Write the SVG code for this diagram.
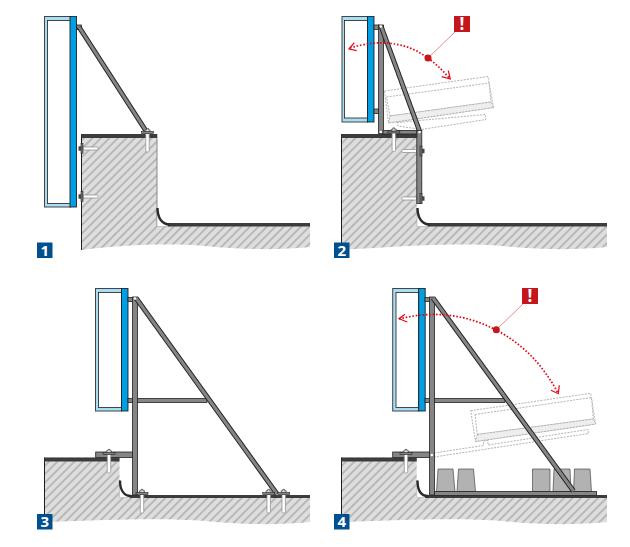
<svg xmlns="http://www.w3.org/2000/svg" width="630" height="547" viewBox="0 0 630 547">
<style>
.ground{fill:url(#hatch);stroke:none}
.edge{fill:none;stroke:#1d1d1b;stroke-width:1}
.membrane{fill:#3c3c3b;stroke:none}
.curve{fill:none;stroke:#2b2b2b;stroke-width:2.4}
.gap{fill:#fff;stroke:#aaa;stroke-width:.6}
.frame{fill:#a9ddf6;stroke:#444;stroke-width:1}
.inner{fill:#fff;stroke:#1d1d1b;stroke-width:.8}
.plate{fill:#009fe3;stroke:#222;stroke-width:.9}
.steel{fill:#858585;stroke:#222;stroke-width:.8}
.bar{stroke:#222;stroke-width:5}
.barc{stroke:#858585;stroke-width:3}
.ghost{fill:#fff;stroke:#aaa;stroke-width:.9;stroke-dasharray:2 1.2}
.ghostb{fill:#eee;stroke:#aaa;stroke-width:.9;stroke-dasharray:2 1.2}
.block{fill:#b2b2b2;stroke:#333;stroke-width:.6}
.arc{fill:none;stroke:#e30613;stroke-width:1.7;stroke-dasharray:1.6 1.8}
.head{fill:none;stroke:#e30613;stroke-width:1.2}
.lead{stroke:#e58a8f;stroke-width:1}
.dot{fill:#c4161c}
.warn{fill:#c4161c}
.wt{font-family:"Open Sans","Liberation Sans",sans-serif;font-weight:700;font-size:15px;fill:#fff;text-anchor:middle}
.ex{font-size:17px}
.num{fill:#00508f}
</style>
<defs>
<pattern id="hatch" width="6" height="6" patternUnits="userSpaceOnUse" patternTransform="rotate(45)">
<rect width="6" height="6" fill="#dedede"/>
<rect width="2" height="6" fill="#b8b8b8"/>
</pattern>
<g id="anchor">
<rect x="-1.7" y="0" width="3.4" height="19" rx="1.2" fill="#fff" stroke="#888" stroke-width=".7"/>
<rect x="-6" y="-1.5" width="12" height="2" fill="#858585" stroke="#222" stroke-width=".6"/>
<path d="M-2.500 -1.500V-3.200H-1V-4.600H1V-3.200H2.500V-1.500Z" fill="#ddd" stroke="#222" stroke-width=".6"/>
</g>
<rect id="shaft" x="0" y="-1.500" width="15" height="3" rx="1.200" fill="#fff" stroke="#888" stroke-width=".7"/>
<g id="sideNut">
<rect x="-2" y="-5" width="2" height="10" fill="#777" stroke="#222" stroke-width=".6"/>
<rect x="-4.500" y="-2.200" width="2.500" height="4.400" fill="#444"/>
</g>
</defs>

<g id="panel-1">
<path class="ground" d="M81.500 134H157V226H310V247C280 250 245 250 205 246C170 243 120 245 81.500 250Z"/>
<path class="edge" d="M81.500 250V134"/>
<path class="edge" style="stroke:#888" d="M157 134V226"/>
<path class="gap" d="M157 208V226.500H170C162 224 157 218 157 208Z"/>
<rect class="membrane" x="81.500" y="134" width="75.500" height="4"/>
<rect class="membrane" x="168" y="223" width="142" height="3.500"/>
<path class="curve" d="M157.500 208C157.500 218 162 224.500 170 224.500"/>
<rect class="frame" x="44.500" y="16.500" width="26" height="190.500"/>
<rect class="inner" x="47.500" y="20.500" width="23" height="183"/>
<rect class="plate" x="70" y="16.500" width="6.500" height="190.500"/>
<rect class="steel" x="76.500" y="25" width="5" height="4.500"/>
<line class="bar" x1="79" y1="27" x2="146" y2="131"/>
<line class="barc" x1="79" y1="27" x2="146" y2="131"/>
<use href="#anchor" x="147.500" y="133"/>
<use href="#shaft" x="83" y="148.500"/><use href="#sideNut" x="83" y="148.500"/>
<use href="#shaft" x="83" y="196.500"/><use href="#sideNut" x="83" y="196.500"/>
</g>

<g id="panel-2">
<path class="ground" d="M341.500 134H417V226H607V247C577 250 542 250 502 246C467 243 417 245 341.500 250Z"/>
<path class="edge" d="M341.500 250V134"/>
<path class="gap" d="M417 208V226.500H430C422 224 417 218 417 208Z"/>
<rect class="membrane" x="341.500" y="134" width="75.500" height="4"/>
<rect class="membrane" x="428" y="223" width="179" height="3.500"/>
<path class="curve" d="M417.500 208C417.500 218 422 224.500 430 224.500"/>
<path class="ghost" d="M397 122.500L485.500 114.500L486 119.500L421 129.500L398 126Z"/>
<path class="ghost" d="M384.500 91L488 76.500L493.500 107.500L388.500 123Z"/>
<path class="ghost" d="M386.500 97L489 83L491 102L390 116Z"/>
<path class="ghostb" d="M390 116L491 102L493.500 107.500L388.500 123Z"/>
<rect class="frame" x="342" y="16.500" width="25.500" height="105.500"/>
<rect class="inner" x="344.500" y="20.500" width="23" height="97.500"/>
<rect class="plate" x="367.500" y="16.500" width="6.500" height="105.500"/>
<rect class="steel" x="374" y="25" width="5" height="4.500"/>
<rect class="steel" x="374" y="109" width="5" height="4.500"/>
<rect class="steel" x="378.500" y="25" width="5" height="108.500"/>
<rect class="steel" x="383" y="130.500" width="34" height="3.500"/>
<line class="bar" x1="381" y1="26" x2="419.500" y2="131"/>
<line class="barc" x1="381" y1="26" x2="419.500" y2="131"/>
<use href="#shaft" x="401.700" y="151"/>
<use href="#shaft" x="401.700" y="198.500"/>
<rect class="steel" x="416.800" y="130.500" width="5" height="73"/>
<use href="#anchor" x="393.800" y="132.500"/>
<use href="#sideNut" transform="translate(420 151) scale(-1 1)"/>
<use href="#sideNut" transform="translate(420 198.500) scale(-1 1)"/>
<circle cx="380.800" cy="26.500" r="1.300" fill="#fff"/>
<circle cx="419.500" cy="132" r="1.300" fill="#fff"/>
<circle cx="380.800" cy="132" r="1.300" fill="#fff"/>
<path class="arc" d="M350 48Q395 34 428 58Q440 67 450 79"/>
<path class="head" d="M354.300 42.700L349 49L356.700 50.700"/>
<path class="head" d="M441.700 76.700L450.300 79L448.300 70.700"/>
<line class="lead" x1="428" y1="58" x2="455" y2="32"/>
<circle class="dot" cx="428" cy="58" r="3.500"/>
<rect class="warn" x="454" y="16" width="16" height="16"/>
<text class="wt ex" x="462" y="30">!</text>
</g>

<g id="panel-3">
<path class="ground" d="M44.500 457.500H119.500V497.500H310V522C280 525 245 525 205 521C170 518 120 519 44.500 522Z"/>
<path class="edge" d="M44.500 522V457.500"/>
<path class="gap" d="M119.500 480V497.500H131C124 495 119.500 490 119.500 480Z"/>
<rect class="membrane" x="44.500" y="457.500" width="75" height="4"/>
<rect class="membrane" x="130" y="495" width="180" height="3"/>
<path class="curve" d="M120 480.500C120 490 124 496 131 496"/>
<rect class="frame" x="95.500" y="288.500" width="26" height="122.500"/>
<rect class="inner" x="98.500" y="292.500" width="23" height="115"/>
<rect class="plate" x="121.500" y="288.500" width="6.500" height="122.500"/>
<rect class="steel" x="128" y="297.500" width="5" height="4"/>
<rect class="steel" x="128" y="398.500" width="5" height="4"/>
<rect class="steel" x="137" y="398.500" width="70" height="4"/>
<rect class="steel" x="95.700" y="452" width="37" height="5.500"/>
<rect class="steel" x="132.500" y="297" width="5" height="198"/>
<line class="bar" x1="136" y1="298" x2="277" y2="494"/>
<line class="barc" x1="136" y1="298" x2="277" y2="494"/>
<circle cx="135" cy="298.500" r="1.300" fill="#fff"/>
<use href="#anchor" x="109" y="454"/>
<use href="#anchor" x="142" y="494"/>
<use href="#anchor" x="268.700" y="494"/>
<use href="#anchor" x="283.700" y="494"/>
</g>

<g id="panel-4">
<path class="ground" d="M341.500 457.500H416.700V497.500H607V522C577 525 542 525 502 521C467 518 417 519 341.500 522Z"/>
<path class="edge" d="M341.500 522V457.500"/>
<path class="gap" d="M416.700 480V497.500H428C421 495 416.700 490 416.700 480Z"/>
<rect class="membrane" x="341.500" y="457.500" width="75.200" height="4"/>
<rect class="membrane" x="425" y="495" width="182" height="3"/>
<path class="curve" d="M417.500 480.500C417.500 490 421 496 428 496"/>
<path class="ghost" d="M434 453L483.500 445.500V441L488 440.500V445L588 429.500L588.500 433.500L434 457"/>
<path class="ghost" d="M470.700 410.700L590.700 393.300L595.700 424L475.500 441.500Z"/>
<path class="ghost" d="M475 414.500L591.500 397.500L593.300 419L477.300 434.500Z"/>
<path class="ghostb" d="M477.300 434.500L593.300 419L595.700 424L475.500 441.500Z"/>
<path class="block" d="M438 469H453L455 491.500H436.500Z"/>
<path class="block" d="M458.500 469H473.500L475.500 491.500H457Z"/>
<path class="block" d="M532.500 469H550L550 491.500H532.500Z"/>
<path class="block" d="M554 469H570L571 491.500H553Z"/>
<path class="block" d="M574.500 469H590L591.500 491.500H573.500Z"/>
<rect class="frame" x="392.700" y="288.500" width="26" height="122.500"/>
<rect class="inner" x="396" y="292.500" width="22.700" height="115"/>
<rect class="plate" x="418.700" y="288.500" width="6.500" height="122.500"/>
<rect class="steel" x="425" y="297.500" width="5" height="4"/>
<rect class="steel" x="425" y="398.500" width="5" height="4"/>
<rect class="steel" x="434" y="398.500" width="71" height="4"/>
<rect class="steel" x="392.700" y="452" width="37" height="5.500"/>
<rect class="steel" x="434" y="491.500" width="162.500" height="4"/>
<rect class="steel" x="429.500" y="297" width="5" height="198"/>
<line class="bar" x1="433" y1="298" x2="573.500" y2="491"/>
<line class="barc" x1="433" y1="298" x2="573.500" y2="491"/>
<circle cx="431.800" cy="455" r="1.300" fill="#fff"/>
<use href="#anchor" x="406" y="454"/>
<path class="arc" d="M399 319Q450 306 496 330Q535 350 558 393"/>
<path class="head" d="M405 314.300L399 318.700L407.300 322"/>
<path class="head" d="M551 390.300L558.300 393.700L559.300 385.300"/>
<line class="lead" x1="496" y1="330" x2="523" y2="304"/>
<circle class="dot" cx="496.300" cy="329.700" r="3.500"/>
<rect class="warn" x="522" y="288" width="16" height="16"/>
<text class="wt ex" x="530" y="302">!</text>
</g>

<g id="badge-1"><rect class="num" x="37" y="242.500" width="15.500" height="15.500"/><text class="wt" x="44.700" y="255.700">1</text></g>
<g id="badge-2"><rect class="num" x="334" y="242.500" width="15.500" height="15.500"/><text class="wt" x="341.700" y="255.700">2</text></g>
<g id="badge-3"><rect class="num" x="37" y="514" width="15.500" height="15.500"/><text class="wt" x="44.700" y="527.200">3</text></g>
<g id="badge-4"><rect class="num" x="334" y="514" width="15.500" height="15.500"/><text class="wt" x="341.700" y="527.200">4</text></g>
</svg>
